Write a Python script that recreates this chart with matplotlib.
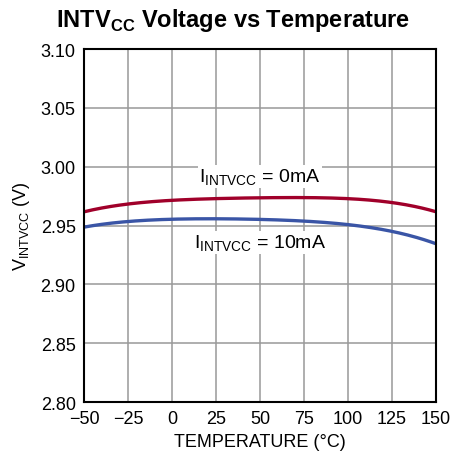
import matplotlib.pyplot as plt
import numpy as np

plt.rcParams["font.family"] = ["Liberation Sans", "DejaVu Sans"]
plt.rcParams["mathtext.fontset"] = "custom"
plt.rcParams["mathtext.rm"] = "Liberation Sans"
plt.rcParams["mathtext.bf"] = "Liberation Sans:bold"

temp = [-50, -25, 0, 25, 50, 75, 100, 125, 150]
v_0ma = [2.9619, 2.9675, 2.9718, 2.9732, 2.9737, 2.9732, 2.9724, 2.9703, 2.9614]
v_10ma = [2.9486, 2.9534, 2.9554, 2.9556, 2.9551, 2.9540, 2.9506, 2.9450, 2.9345]

xticks = [-50, -25, 0, 25, 50, 75, 100, 125, 150]
xticklabels = ["\u221250", "\u221225", "0", "25", "50", "75", "100", "125", "150"]
yticks = [2.80, 2.85, 2.90, 2.95, 3.00, 3.05, 3.10]

RED = "#a0002a"
BLUE = "#3a55a6"


def smooth(x, y):
    xs = np.linspace(x[0], x[-1], 200)
    coef = np.polyfit(x, y, 4)
    return xs, np.polyval(coef, xs)


fig = plt.figure(figsize=(4.67, 4.60), dpi=100)
ax = fig.add_axes([84 / 467, 1 - 403 / 460, (436 - 84) / 467, (403 - 50) / 460])

xs, ys = smooth(temp, v_0ma)
ax.plot(xs, ys, color=RED, lw=2.4, solid_capstyle="butt")
xs, ys = smooth(temp, v_10ma)
ax.plot(xs, ys, color=BLUE, lw=2.4, solid_capstyle="butt")

ax.set_xlim(-50, 150)
ax.set_ylim(2.80, 3.10)
ax.set_xticks(xticks)
ax.set_xticklabels(xticklabels)
ax.set_yticks(yticks)
ax.set_yticklabels([f"{v:.2f}" for v in yticks])
ax.tick_params(length=0, labelsize=13, pad=6)
ax.grid(True, color="#999999", lw=1.1)
ax.set_axisbelow(True)
for s in ax.spines.values():
    s.set_linewidth(1.5)

ax.text(50, 2.9915, r"I$_{\mathrm{INTVCC}}$ = 0mA", ha="center", va="center",
        fontsize=14, bbox=dict(facecolor="white", edgecolor="none", pad=1))
ax.text(50, 2.9355, r"I$_{\mathrm{INTVCC}}$ = 10mA", ha="center", va="center",
        fontsize=14, bbox=dict(facecolor="white", edgecolor="none", pad=1))

ax.set_xlabel("TEMPERATURE (\u00b0C)", fontsize=13, labelpad=4)
ax.set_ylabel(r"V$_{\mathrm{INTVCC}}$ (V)", fontsize=13, labelpad=6)
fig.text(0.5, 1 - 20 / 460, r"INTV$_{\mathbf{CC}}$ Voltage vs Temperature",
         ha="center", va="center", fontsize=17, fontweight="bold")

fig.savefig("out.png", dpi=100)
